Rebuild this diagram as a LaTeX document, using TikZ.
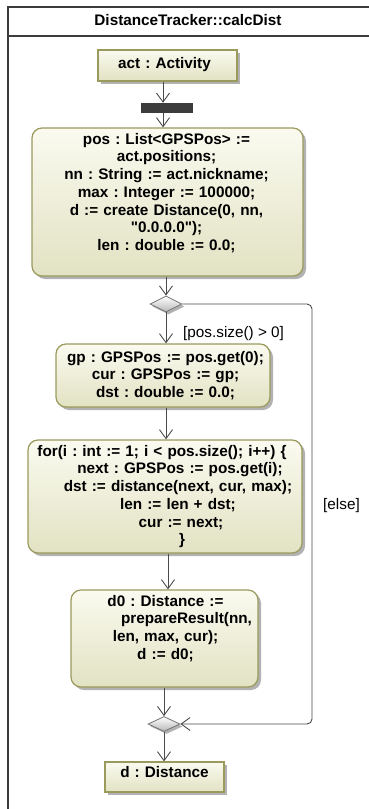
\documentclass[tikz,border=0pt]{standalone}
\usepackage{fontspec}
\setmainfont{Liberation Sans}[Ligatures=TeXOff]
\usetikzlibrary{arrows.meta,shapes.geometric,shadows}
\definecolor{boxborder}{HTML}{9A9A5C}
\definecolor{boxlight}{HTML}{FAFAF0}
\definecolor{boxdark}{HTML}{E2E2C3}
\definecolor{linegray}{HTML}{4A4A4A}
\definecolor{framegray}{HTML}{3C3C3C}
\newcommand\sk{\rule[-4.5pt]{0pt}{13pt}}
\tikzset{
  boxbase/.style={draw=boxborder, line width=1.2pt, top color=boxlight, bottom color=boxdark,
    inner sep=0pt, drop shadow={shadow xshift=3pt, shadow yshift=-3pt, fill=black, opacity=0.3}},
  actionbox/.style={boxbase, rectangle, rounded corners=10pt},
  objbox/.style={boxbase, rectangle},
  forkbar/.style={rectangle, fill=framegray, inner sep=0pt},
  decision/.style={diamond, draw=black!55, line width=0.8pt, inner sep=0pt,
    top color=white, bottom color=black!28,
    drop shadow={shadow xshift=2.5pt, shadow yshift=-2.5pt, fill=black, opacity=0.3}},
  txt/.style={font=\bfseries\fontsize{15.3}{17.7}\selectfont, text width=300pt, align=center,
    inner sep=0pt, anchor=north},
  lbl/.style={font=\fontsize{15.3}{17.7}\selectfont, inner sep=0pt, anchor=base west},
  conn/.style={draw=linegray, line width=0.9pt, -{Straight Barb[length=9pt,width=13pt]}},
}
\begin{document}
\frenchspacing
\begin{tikzpicture}[x=1pt,y=-1pt]
\useasboundingbox (0,0) rectangle (368,809);
% frame
\draw[framegray, line width=2pt] (8,7) rectangle (420,840);
\draw[framegray, line width=2pt] (8,36) -- (420,36);
\node[txt] (title) at (188,14) {\sk DistanceTracker::calcDist};

% boxes
\node[objbox, minimum width=139pt, minimum height=31pt] (act) at (167.5,65.5) {};
\node[forkbar, minimum width=52pt, minimum height=10pt] (bar) at (167,108) {};
\node[actionbox, minimum width=271pt, minimum height=148pt] (pos) at (167.5,202) {};
\node[decision, minimum width=32pt, minimum height=16pt] (dia1) at (166,304) {};
\node[actionbox, minimum width=214pt, minimum height=63pt] (gp) at (163,375.5) {};
\node[actionbox, minimum width=274pt, minimum height=113pt] (for) at (165,496.5) {};
\node[actionbox, minimum width=187pt, minimum height=97pt] (d0) at (164.5,638.5) {};
\node[decision, minimum width=32pt, minimum height=15pt] (dia2) at (164,724) {};
\node[objbox, minimum width=119pt, minimum height=30pt] (dbox) at (164.5,777) {};

% texts
\node[txt] (tact) at (164.5,57.5) {\sk act : Activity};
\node[txt] (tpos) at (166.5,133) {\sk pos : List<GPSPos> :=\\act.positions;\\nn : String := act.nickname;\\max : Integer := 100000;\\d := create Distance(0, nn,\\"0.0.0.0");\\len : double := 0.0;};
\node[txt] (tgp) at (165.5,351) {\sk gp : GPSPos := pos.get(0);\\cur : GPSPos := gp;\\dst : double := 0.0;};
\node[txt] (tfor) at (162,445) {\sk for(i : int := 1; i < pos.size(); i++) \{\\\hspace*{36pt}next : GPSPos := pos.get(i);\\\hspace*{32pt}dst := distance(next, cur, max);\\\hspace*{32pt}len := len + dst;\\\hspace*{38pt}cur := next;\\\hspace*{40pt}\}};
\node[txt] (td0) at (165.5,595) {\sk d0 : Distance :=\\\hspace*{42pt}prepareResult(nn,\\len, max, cur);\\d := d0;};
\node[txt] (td) at (164.5,766) {\sk d : Distance};

% guards
\node[lbl] (g1) at (183,337) {[pos.size() > 0]};
\node[lbl] (g2) at (323,509) {[else]};

% connectors
\draw[conn] ([xshift=-4.5pt]act.south) -- ([xshift=-4.5pt]act.south |- bar.north);
\draw[conn] ([xshift=-4pt]bar.south) -- ([xshift=-4pt]bar.south |- pos.north);
\draw[conn] (dia1.north |- pos.south) -- (dia1.north);
\draw[conn] (dia1.south) -- (dia1.south |- gp.north);
\draw[conn] ([xshift=3pt]gp.south) -- ([xshift=3pt]gp.south |- for.north);
\draw[conn] ([xshift=3pt]for.south) -- ([xshift=3pt]for.south |- d0.north);
\draw[conn] (dia2.north |- d0.south) -- (dia2.north);
\draw[conn] (dia2.south) -- (dia2.south |- dbox.north);
\draw[conn, rounded corners=5pt] (dia1.east) -- (312,304) -- (312,724) -- (dia2.east);
\end{tikzpicture}
\end{document}
